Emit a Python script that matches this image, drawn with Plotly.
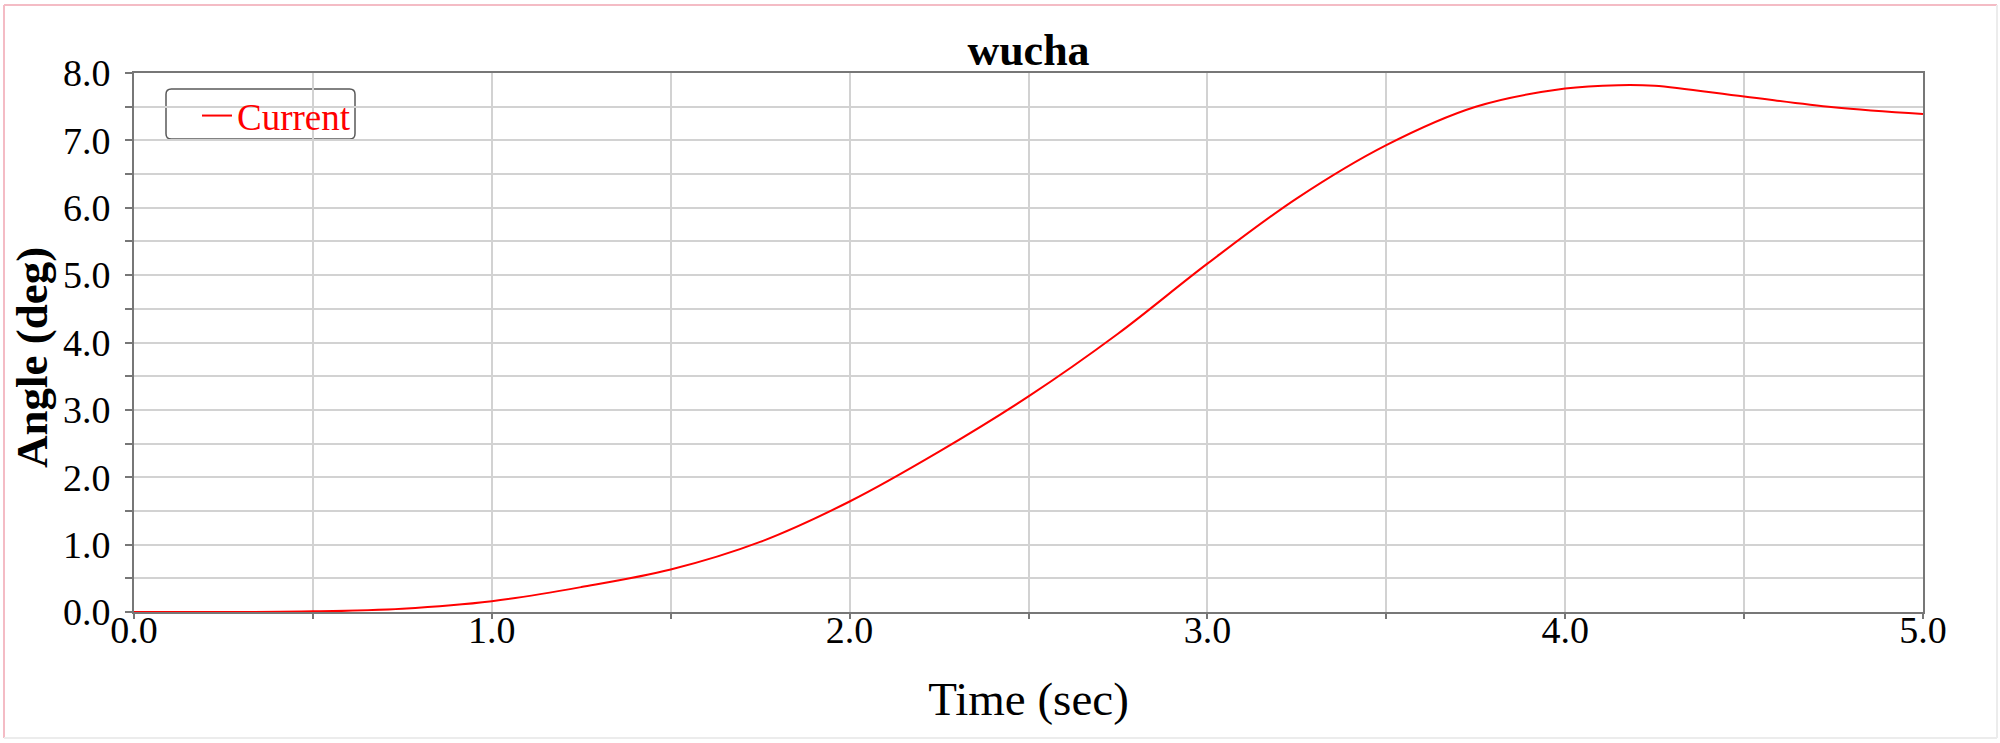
import plotly.graph_objects as go

# ---- data ----
time_sec = [0.0, 0.25, 0.5, 0.75, 1.0, 1.25, 1.5, 1.75, 2.0, 2.25, 2.5,
            2.75, 3.0, 3.25, 3.5, 3.75, 4.0, 4.15, 4.25, 4.5, 4.75, 5.0]
angle_deg = [0.0, 0.0, 0.01, 0.05, 0.16, 0.37, 0.63, 1.04, 1.64, 2.38, 3.2,
             4.13, 5.17, 6.14, 6.93, 7.5, 7.77, 7.82, 7.81, 7.65, 7.49, 7.39]
series_name = "Current"
chart_title = "wucha"
x_title = "Time (sec)"
y_title = "Angle (deg)"
x_tickvals = [0.0, 1.0, 2.0, 3.0, 4.0, 5.0]
x_ticktext = ["0.0", "1.0", "2.0", "3.0", "4.0", "5.0"]
y_tickvals = [0.0, 1.0, 2.0, 3.0, 4.0, 5.0, 6.0, 7.0, 8.0]
y_ticktext = ["0.0", "1.0", "2.0", "3.0", "4.0", "5.0", "6.0", "7.0", "8.0"]

W, H = 2000, 743
L, R, T, B = 134, 77, 73, 131
PW, PH = W - L - R, H - T - B

def px_x(p):
    return (p - L) / PW

def px_y(p):
    return (H - B - p) / PH

SERIF = "Liberation Serif, Times New Roman, serif"
GRID = "#d2d2d2"
AXIS = "#777777"

fig = go.Figure()
fig.add_trace(go.Scatter(
    x=time_sec, y=angle_deg, mode="lines", name=series_name,
    line=dict(color="#ff0000", width=2, shape="spline", smoothing=1.0),
))

fig.update_layout(
    template="none",
    width=W, height=H,
    margin=dict(l=L, r=R, t=T, b=B, autoexpand=False),
    paper_bgcolor="white", plot_bgcolor="white",
    font=dict(family=SERIF, color="black"),
    title=dict(text="<b>" + chart_title + "</b>", x=(L + PW / 2) / W,
               xanchor="center", y=1 - 50 / H, yanchor="middle",
               font=dict(size=44, family=SERIF, color="black")),
    showlegend=True,
    legend=dict(x=px_x(197), y=px_y(85), xanchor="left", yanchor="top",
                bgcolor="rgba(0,0,0,0)", borderwidth=0,
                font=dict(size=37, family=SERIF, color="#ff0000"),
                itemwidth=30, tracegroupgap=0),
    xaxis=dict(
        range=[0, 5], tickvals=x_tickvals, ticktext=x_ticktext,
        automargin=False,
        showgrid=True, gridcolor=GRID, gridwidth=1.5,
        showline=True, linecolor=AXIS, linewidth=2, mirror=True,
        ticks="outside", ticklen=5, tickcolor=AXIS, tickwidth=1.5,
        tickfont=dict(size=38, family=SERIF, color="black"),
        ticklabelstandoff=-22,
        zeroline=False,
        minor=dict(dtick=0.5, showgrid=True, gridcolor=GRID, gridwidth=1.5,
                   ticks="outside", ticklen=5, tickcolor=AXIS),
        title=dict(text=x_title, standoff=33,
                   font=dict(size=47, family=SERIF, color="black")),
    ),
    yaxis=dict(
        range=[0, 8], tickvals=y_tickvals, ticktext=y_ticktext,
        automargin=False,
        showgrid=True, gridcolor=GRID, gridwidth=1.5,
        showline=True, linecolor=AXIS, linewidth=2, mirror=True,
        ticks="outside", ticklen=7, tickcolor=AXIS, tickwidth=1.5,
        tickfont=dict(size=38, family=SERIF, color="black"),
        ticklabelstandoff=7,
        zeroline=False,
        minor=dict(dtick=0.5, showgrid=True, gridcolor=GRID, gridwidth=1.5,
                   ticks="outside", ticklen=7, tickcolor=AXIS),
    ),
)

# y-axis title placed like the reference (slightly below plot centre)
fig.add_annotation(
    text="<b>" + y_title + "</b>", xref="paper", yref="paper",
    x=px_x(32), y=px_y(358), xanchor="center", yanchor="middle",
    textangle=-90, showarrow=False,
    font=dict(size=45, family=SERIF, color="black"),
)

# legend frame (rounded box)
x0, x1, y0, y1, rr = px_x(166), px_x(355), px_y(89), px_y(139), 0.003
ry = rr * PW / PH
fig.add_shape(
    type="path", xref="paper", yref="paper",
    path=(f"M {x0+rr},{y0} L {x1-rr},{y0} Q {x1},{y0} {x1},{y0-ry} "
          f"L {x1},{y1+ry} Q {x1},{y1} {x1-rr},{y1} L {x0+rr},{y1} "
          f"Q {x0},{y1} {x0},{y1+ry} L {x0},{y0-ry} Q {x0},{y0} {x0+rr},{y0} Z"),
    line=dict(color="#5a5a5a", width=1.5), fillcolor="white", layer="below",
)

# outer frame of the image
fig.add_shape(type="line", xref="paper", yref="paper",
              x0=px_x(4), x1=px_x(1997), y0=px_y(5), y1=px_y(5),
              line=dict(color="#f4bcc5", width=2))
fig.add_shape(type="line", xref="paper", yref="paper",
              x0=px_x(4), x1=px_x(4), y0=px_y(5), y1=px_y(738),
              line=dict(color="#f4bcc5", width=2))
fig.add_shape(type="line", xref="paper", yref="paper",
              x0=px_x(1997), x1=px_x(1997), y0=px_y(5), y1=px_y(738),
              line=dict(color="#ececec", width=2))
fig.add_shape(type="line", xref="paper", yref="paper",
              x0=px_x(4), x1=px_x(1997), y0=px_y(738), y1=px_y(738),
              line=dict(color="#ececec", width=2))

fig.write_html("out.html", config={"displayModeBar": False},
               post_script="document.body.style.margin='0px';")
